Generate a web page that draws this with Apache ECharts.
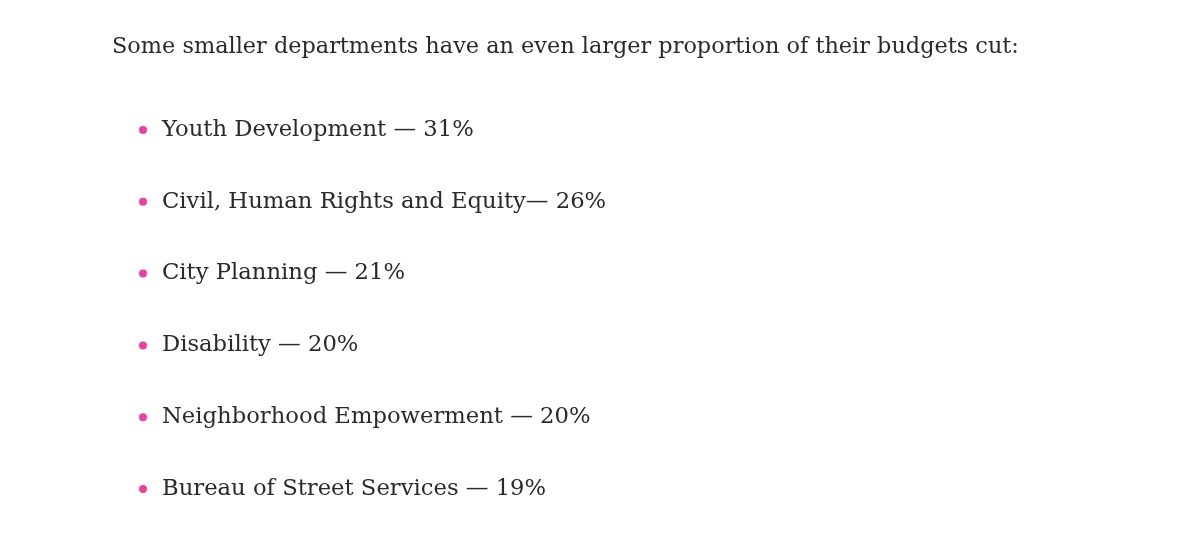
<!DOCTYPE html>
<html>
<head>
<meta charset="utf-8">
<script src="https://cdn.jsdelivr.net/npm/echarts@6/dist/echarts.min.js"></script>
<style>
  html, body { margin: 0; padding: 0; background: #fff; }
  #chart { width: 1180px; height: 556px; }
</style>
</head>
<body>
<div id="chart"></div>
<script>
// data
const heading = 'Some smaller departments have an even larger proportion of their budgets cut:';
const departments = [
  'Youth Development',
  'Civil, Human Rights and Equity',
  'City Planning',
  'Disability',
  'Neighborhood Empowerment',
  'Bureau of Street Services'
];
const cuts = [31, 26, 21, 20, 20, 19];
// the source text drops the space before the dash on one line
const dashes = [' — ', '— ', ' — ', ' — ', ' — ', ' — '];

const textColor = '#2a2a2a';
const fontFamily = '"DejaVu Serif", "Liberation Serif", serif';

const chart = echarts.init(document.getElementById('chart'));

chart.setOption({
  animation: false,
  title: {
    text: heading,
    left: 107,
    top: 26,
    textStyle: {
      fontFamily: fontFamily,
      fontSize: 22.4,
      fontWeight: 'normal',
      color: textColor,
      lineHeight: 32
    }
  },
  grid: { left: 143, right: 100, top: 94, bottom: 31 },
  xAxis: { type: 'value', min: 0, max: 100, show: false },
  yAxis: {
    type: 'category',
    data: departments,
    inverse: true,
    show: false
  },
  series: [{
    type: 'scatter',
    symbol: 'circle',
    symbolSize: 8,
    itemStyle: { color: '#f23d9e', opacity: 1 },
    // bullets all sit at 0, the text carries the numbers
    data: departments.map((d, i) => ({ value: [0, d], cut: cuts[i], dash: dashes[i] })),
    label: {
      show: true,
      position: 'right',
      distance: 15,
      opacity: 1,
      fontFamily: fontFamily,
      fontSize: 22.7,
      color: textColor,
      formatter: (p) => `${p.data.value[1]}${p.data.dash}${p.data.cut}%`
    }
  }]
});
</script>
</body>
</html>
